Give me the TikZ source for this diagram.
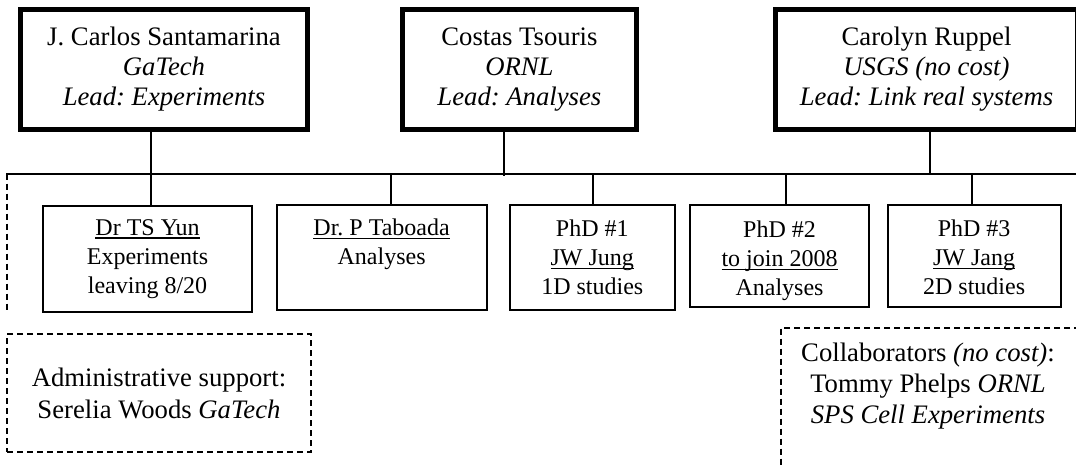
\documentclass[tikz,border=0pt]{standalone}
\usepackage{fontspec}
\setmainfont{Liberation Serif}
\frenchspacing
\newsavebox{\ulnbox}
\newcommand{\uln}[1]{\leavevmode\sbox{\ulnbox}{#1}\rlap{\rule[-3.3pt]{\wd\ulnbox}{1.5pt}}\usebox{\ulnbox}}
\newcommand{\lift}[1]{\rule{0pt}{#1}}
\begin{document}
\begin{tikzpicture}[x=1pt,y=-1pt,
  leadbox/.style={draw, line width=5pt, rectangle, inner sep=2pt, align=center,
    font=\fontsize{26.7pt}{30pt}\selectfont},
  childbox/.style={draw, line width=2pt, rectangle, inner sep=2pt, align=center,
    font=\fontsize{24pt}{29pt}\selectfont},
  dashbox/.style={draw, line width=2pt, dash pattern=on 6pt off 4pt, rectangle,
    inner sep=2pt, align=center},
  dashline/.style={line width=2pt, dash pattern=on 6pt off 4pt},
  conn/.style={line width=2pt},
  bigtxt/.style={align=center, inner sep=0pt}
]
\useasboundingbox (0,0) rectangle (1076,466);

% leaders
\node[leadbox, minimum width=287pt, minimum height=120pt] (b1) at (164,69.5)
  {J. Carlos Santamarina\\ \textit{GaTech}\\ \textit{Lead: Experiments}};
\node[leadbox, minimum width=234.8pt, minimum height=120pt] (b2) at (519.4,69.5)
  {Costas Tsouris\\ \textit{ORNL}\\ \textit{Lead: Analyses}};
\node[leadbox, minimum width=302pt, minimum height=120pt] (b3) at (926.5,69.5)
  {Carolyn Ruppel\\ \textit{USGS (no cost)}\\ \textit{Lead: Link real systems}};

% team
\node[childbox, minimum width=209.6pt, minimum height=106.3pt] (c1) at (147.5,259.2)
  {\uln{Dr TS Yun}\\ Experiments\\ leaving 8/20};
\node[childbox, minimum width=209.8pt, minimum height=104.7pt] (c2) at (381.6,257.65)
  {\lift{23pt}\uln{Dr. P Taboada}\\ Analyses\\ \strut};
\node[childbox, minimum width=164.5pt, minimum height=105pt] (c3) at (592.25,257.5)
  {PhD \#1\\ \uln{JW Jung}\\ 1D studies};
\node[childbox, minimum width=179pt, minimum height=102pt] (c4) at (779.5,256)
  {\lift{27pt}PhD \#2\\ \uln{to join 2008}\\ Analyses};
\node[childbox, minimum width=173.2pt, minimum height=102pt] (c5) at (974.1,256)
  {\lift{20pt}PhD \#3\\ \uln{JW Jang}\\ 2D studies};

% bus and drops
\coordinate (busL) at (6,173.5);
\coordinate (busR) at (1080,173.5);
\coordinate (d1) at (151,173.5);
\coordinate (d2) at (504.3,173.5);
\coordinate (d2end) at (504.3,176);
\coordinate (d3) at (930,173.5);
\coordinate (e2) at (391,173.5);
\coordinate (e3) at (592.7,173.5);
\coordinate (e4) at (786,173.5);
\coordinate (e5) at (972,173.5);
\coordinate (dashEnd) at (6.7,313);

\draw[conn] (busL) -- (busR);
\draw[conn] (b1.south -| d1) -- (c1.north -| d1);
\draw[conn] (b2.south -| d2) -- (d2end);
\draw[conn] (b3.south -| d3) -- (d3);
\draw[conn] (e2) -- (c2.north -| e2);
\draw[conn] (e3) -- (c3.north -| e3);
\draw[conn] (e4) -- (c4.north -| e4);
\draw[conn] (e5) -- (c5.north -| e5);
\draw[dashline] ([xshift=0.7pt]busL) -- (dashEnd);

% admin support
\node[dashbox, minimum width=304pt, minimum height=118pt,
  font=\fontsize{26.7pt}{32pt}\selectfont] (admin) at (159,393)
  {Administrative support:\\ Serelia Woods \textit{GaTech}};

% collaborators (box runs off the page)
\draw[dashline] (1090,328) -- (780.7,328) -- (780.7,480);
\node[bigtxt, font=\fontsize{26.7pt}{31pt}\selectfont] (collab) at (928,386)
  {Collaborators \textit{(no cost)}:\\ Tommy Phelps \textit{ORNL}\\ \textit{SPS Cell Experiments}};
\end{tikzpicture}
\end{document}
